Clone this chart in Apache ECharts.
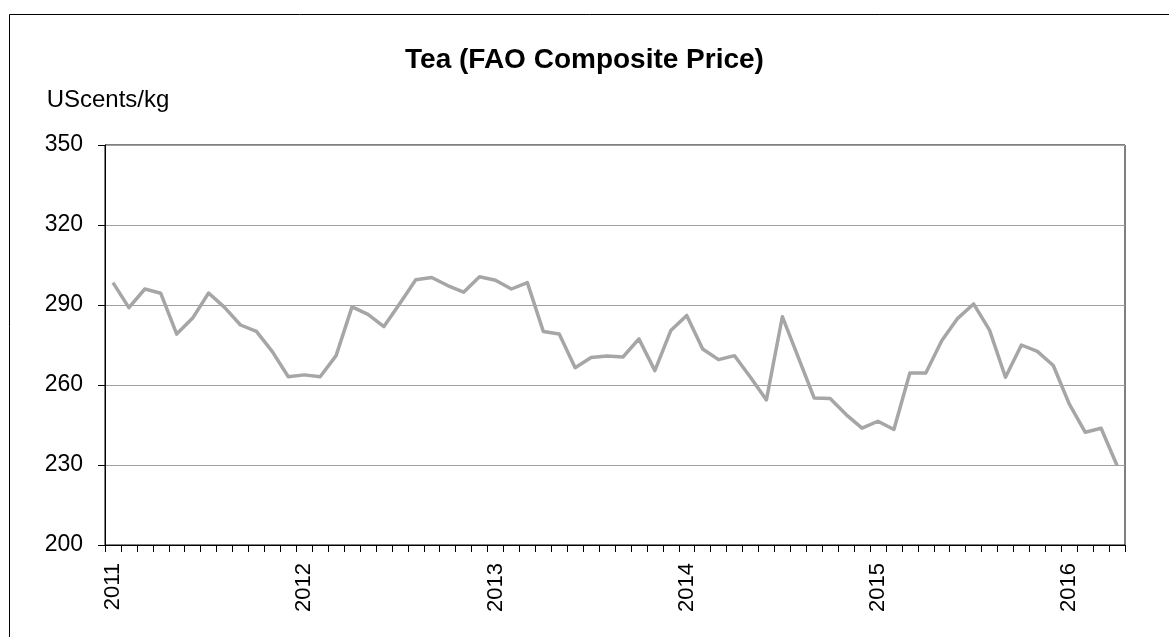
<!DOCTYPE html>
<html>
<head>
<meta charset="utf-8">
<title>Tea (FAO Composite Price)</title>
<script src="https://cdn.jsdelivr.net/npm/echarts@6/dist/echarts.min.js"></script>
<style>
  html, body { margin: 0; padding: 0; background: #fff; }
  #chart { width: 1169px; height: 637px; }
</style>
</head>
<body>
<div id="chart"></div>
<script>
// years shown on the axis, one category per month (Jan 2011 - Apr 2016)
const years = ['2011', '2012', '2013', '2014', '2015', '2016'];
const lastYearMonths = 4;

// US cents per kg, monthly
const prices = [
  298.4, 289.0, 296.0, 294.4, 279.1, 285.1, 294.5, 289.1, 282.5, 280.1, 272.5, 263.1,
  263.8, 263.1, 271.0, 289.3, 286.5, 281.9, 290.6, 299.5, 300.3, 297.3, 294.8, 300.6,
  299.3, 296.0, 298.4, 280.1, 279.1, 266.5, 270.3, 270.9, 270.5, 277.3, 265.4, 280.4,
  286.1, 273.5, 269.5, 271.0, 262.9, 254.4, 285.6, 270.4, 255.1, 254.9, 248.9, 243.8,
  246.4, 243.3, 264.5, 264.5, 276.6, 285.0, 290.4, 280.6, 262.9, 275.0, 272.6, 267.3,
  252.9, 242.3, 243.8, 229.8
];

const yTicks = [200, 230, 260, 290, 320, 350];

let months = [];
years.forEach((y, i) => {
  const n = i === years.length - 1 ? lastYearMonths : 12;
  for (let m = 1; m <= n; m++) {
    months.push(y + '-' + (m < 10 ? '0' + m : m));
  }
});

const font = "'Liberation Sans', Arial, sans-serif";

let myChart = echarts.init(document.getElementById('chart'));
let option = {
  animation: false,
  backgroundColor: '#fff',
  title: {
    text: 'Tea (FAO Composite Price)',
    left: 'center',
    top: 41,
    textStyle: {
      fontFamily: font,
      fontSize: 28,
      fontWeight: 'bold',
      color: '#000'
    }
  },
  graphic: [{
    type: 'rect',
    shape: { x: 9.5, y: 14.5, width: 1200, height: 700 },
    style: { fill: 'none', stroke: '#000', lineWidth: 1 },
    silent: true
  }],
  grid: {
    left: 105,
    right: 44,
    top: 145,
    bottom: 92,
    show: true,
    borderColor: '#000',
    borderWidth: 1
  },
  xAxis: {
    type: 'category',
    data: months,
    boundaryGap: true,
    axisLine: { lineStyle: { color: '#000', width: 1 } },
    axisTick: { show: true, interval: 0, length: 7, lineStyle: { color: '#000' } },
    axisLabel: {
      interval: 11,
      rotate: 90,
      margin: 18,
      fontFamily: font,
      fontSize: 22,
      color: '#000',
      formatter: v => v.slice(0, 4)
    },
    splitLine: { show: false }
  },
  yAxis: {
    type: 'value',
    min: yTicks[0],
    max: yTicks[yTicks.length - 1],
    interval: yTicks[1] - yTicks[0],
    name: 'UScents/kg',
    nameLocation: 'end',
    nameGap: 45,
    nameTextStyle: {
      fontFamily: font,
      fontSize: 24,
      color: '#000',
      align: 'center',
      verticalAlign: 'middle',
      padding: [0, 0, 0, 6]
    },
    axisLine: { show: true, lineStyle: { color: '#000', width: 1 } },
    axisTick: { show: true, length: 7, lineStyle: { color: '#000' } },
    axisLabel: {
      margin: 22,
      fontFamily: font,
      fontSize: 23,
      color: '#000'
    },
    splitLine: { lineStyle: { color: '#a0a0a0', width: 1 } }
  },
  series: [{
    name: 'Tea',
    type: 'line',
    data: prices,
    symbol: 'none',
    smooth: false,
    lineStyle: { color: '#a6a6a6', width: 3.5, join: 'round' }
  }]
};

myChart.setOption(option);
</script>
</body>
</html>
